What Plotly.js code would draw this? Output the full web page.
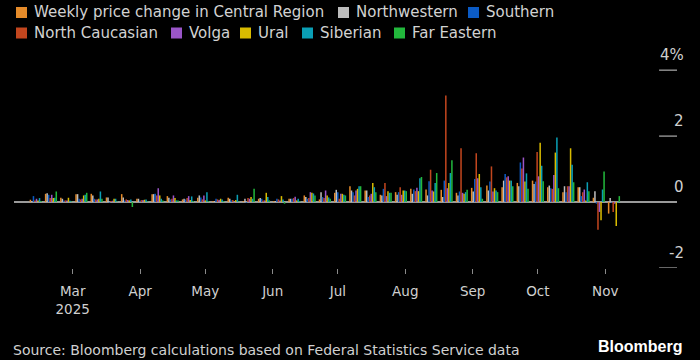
<!DOCTYPE html>
<html>
<head>
<meta charset="utf-8">
<script src="https://cdn.plot.ly/plotly-3.0.1.min.js"></script>
<style>
  html, body { margin: 0; padding: 0; background: #000; }
  #chart { width: 700px; height: 360px; }
</style>
</head>
<body>
<div id="chart"></div>
<script>
// Weekly dates (Rosstat Wednesday releases)
const weeks = [
  '2025-02-12','2025-02-19','2025-02-26','2025-03-05','2025-03-12','2025-03-19','2025-03-26',
  '2025-04-02','2025-04-09','2025-04-16','2025-04-23','2025-04-30','2025-05-07','2025-05-14',
  '2025-05-21','2025-05-28','2025-06-04','2025-06-11','2025-06-18','2025-06-25','2025-07-02',
  '2025-07-09','2025-07-16','2025-07-23','2025-07-30','2025-08-06','2025-08-13','2025-08-20',
  '2025-08-27','2025-09-03','2025-09-10','2025-09-17','2025-09-24','2025-10-01','2025-10-08',
  '2025-10-15','2025-10-22','2025-10-29','2025-11-05'
];

const regionNames = ['Weekly price change in Central Region','Northwestern','Southern',
  'North Caucasian','Volga','Ural','Siberian','Far Eastern'];

const central = [0.07,0.25,0.13,0.24,0.25,0.14,0.24,0.10,0.24,0.18,
  0.08,0.13,0.03,0.13,0.03,0.10,0.03,0.10,0.20,0.08,
  0.28,0.48,0.35,0.22,0.30,0.40,0.38,0.37,0.28,0.43,
  0.50,0.45,0.58,0.65,0.45,0.30,0.45,0.13,-0.35];
const northwestern = [0.03,0.27,0.10,0.24,0.20,0.14,0.14,0.10,0.24,0.13,
  0.10,0.20,0.03,0.10,0.10,0.12,0.03,0.10,0.15,0.30,
  0.37,0.35,0.35,0.20,0.22,0.25,0.20,0.15,0.20,0.32,
  0.35,0.65,0.48,0.55,0.50,0.48,0.45,0.33,0.12];
const southern = [0.18,0.22,0.05,0.10,0.10,-0.02,0.05,0.05,0.25,0.08,
  0.08,0.14,0.10,0.05,-0.02,0.10,0.10,0.10,0.10,0.15,
  0.30,0.30,0.15,0.40,0.30,0.38,0.63,0.65,0.32,0.70,
  0.62,0.85,1.20,0.62,0.42,0.30,0.18,-0.05,-0.02];
const northCaucasian = [0.05,0.12,0.05,0.08,0.08,0.03,0.08,0.06,0.20,0.10,
  0.12,0.08,0.08,0.06,0.12,0.05,0.08,0.12,0.12,0.12,
  0.10,0.20,0.20,0.58,0.45,0.33,0.98,3.23,1.63,1.48,
  1.08,0.75,1.02,1.52,0.40,0.48,0.30,-0.84,-0.30];
const volga = [0.10,0.22,0.05,0.10,0.08,0.04,0.06,0.06,0.42,0.20,
  0.18,0.20,0.06,-0.02,0.10,0.05,0.05,0.16,0.30,0.35,
  0.25,0.35,0.25,0.18,0.22,0.43,0.35,0.42,0.28,0.72,
  0.32,0.78,1.35,0.78,0.82,0.48,0.38,-0.30,-0.05];
const ural = [0.05,0.12,0.13,0.20,0.10,0.10,0.05,0.07,0.20,0.12,
  0.06,0.05,0.10,0.06,0.15,0.28,0.18,0.05,0.28,0.20,
  0.25,0.40,0.58,0.33,0.35,0.33,0.32,0.58,0.25,0.85,
  0.42,0.65,0.62,1.80,1.50,1.63,0.05,-0.55,-0.73];
const siberian = [0.12,0.13,0.04,0.22,0.32,0.10,0.08,0.08,0.10,0.05,
  0.17,0.30,0.08,0.22,0.10,0.15,0.08,0.10,0.26,0.14,
  0.22,0.48,0.45,0.28,0.35,0.72,0.58,0.88,0.30,0.45,
  0.35,0.65,0.87,1.10,1.96,1.13,0.60,0.38,-0.02];
const farEastern = [0.03,0.32,0.02,0.28,0.10,0.02,-0.15,0.02,0.05,0.05,
  0.03,0.03,0.03,0.02,0.40,0.05,-0.05,0.03,0.20,0.10,
  0.20,0.48,0.30,0.28,0.33,0.76,0.88,1.27,0.37,0.10,
  0.30,0.48,0.40,0.63,0.42,0.60,0.33,0.93,0.18];

const xTickVals = ['2025-03-01','2025-04-01','2025-05-01','2025-06-01','2025-07-01',
  '2025-08-01','2025-09-01','2025-10-01','2025-11-01'];
const xTickText = ['Mar<br>2025','Apr','May','Jun','Jul','Aug','Sep','Oct','Nov'];
const yTickVals = [-2, 0, 2, 4];
const yTickText = ['-2', '0', '2', '4%'];

const seriesValues = [central, northwestern, southern, northCaucasian, volga, ural, siberian, farEastern];
const colors = ['#e58b2a','#bdbdbd','#0b5bc5','#c2461e','#9a55c8','#d9bb00','#0a9fb5','#22b83c'];

const FONT = '"DejaVu Sans", sans-serif';

// ---- layout geometry (px) ----
const W = 700, H = 360;
const M = { l: 14, r: 23, t: 52, b: 92 };
const plotW = W - M.l - M.r, plotH = H - M.t - M.b;
const pxToPaperX = px => (px - M.l) / plotW;
const pxToPaperY = py => (H - M.b - py) / plotH;

// legend key placement (px): square left edge and row
const keyLeft = [16, 338, 468, 16, 171, 240, 302, 394];
const keyRow = [0, 0, 0, 1, 1, 1, 1, 1];
const rowCenter = [12.5, 33];
const keySize = 11, keyTextGap = 17;

const traces = seriesValues.map((vals, i) => ({
  type: 'bar',
  name: regionNames[i],
  x: weeks,
  y: vals,
  marker: { color: colors[i], line: { width: 0 } },
  hoverinfo: 'skip'
}));

// short tick marks under right-side labels
const shapes = yTickVals.filter(v => v !== 0).map(v => ({
  type: 'line', xref: 'paper', yref: 'y', x0: 0.973, x1: 1, y0: v, y1: v,
  line: { color: '#cfcfcf', width: 1 }, layer: 'above'
}));

// legend keys (colour squares)
regionNames.forEach((name, i) => {
  const cy = rowCenter[keyRow[i]];
  shapes.push({
    type: 'rect', xref: 'paper', yref: 'paper',
    x0: pxToPaperX(keyLeft[i]), x1: pxToPaperX(keyLeft[i] + keySize),
    y0: pxToPaperY(cy + keySize / 2), y1: pxToPaperY(cy - keySize / 2),
    fillcolor: colors[i], line: { width: 0 }, layer: 'above'
  });
});

// legend labels
const legendAnnotations = regionNames.map((name, i) => ({
  text: name, xref: 'paper', yref: 'paper',
  x: pxToPaperX(keyLeft[i] + keyTextGap - 1), y: pxToPaperY(rowCenter[keyRow[i]]),
  xanchor: 'left', yanchor: 'middle', showarrow: false,
  font: { family: FONT, size: 15, color: '#d2d2d2' }
}));

// right-side tick labels sitting above the tick marks
const yLabelAnnotations = yTickVals.map((v, i) => ({
  text: yTickText[i], xref: 'paper', yref: 'y', x: 1.013, y: v,
  xanchor: 'right', yanchor: 'middle', yshift: 15, showarrow: false,
  font: { family: FONT, size: 15, color: '#d0d0d0' }
}));

const layout = {
  width: W, height: H,
  paper_bgcolor: '#000', plot_bgcolor: '#000',
  margin: M,
  barmode: 'group', bargap: 0.2, bargroupgap: 0,
  font: { family: FONT, color: '#d0d0d0' },
  showlegend: false,
  xaxis: {
    type: 'date', range: ['2025-02-02', '2025-12-04'],
    tickvals: xTickVals, ticktext: xTickText,
    ticks: 'outside', ticklen: 5, tickwidth: 1, tickcolor: '#8a8a8a',
    ticklabelstandoff: 6,
    tickfont: { family: FONT, size: 13.5, color: '#d0d0d0' },
    showgrid: false, zeroline: false, showline: false, fixedrange: true
  },
  yaxis: {
    side: 'right', range: [-2, 4.55],
    tickvals: yTickVals, showticklabels: false,
    ticks: '', showgrid: false,
    zeroline: true, zerolinecolor: '#9a9a9a', zerolinewidth: 2,
    showline: false, fixedrange: true
  },
  shapes: shapes,
  annotations: legendAnnotations.concat(yLabelAnnotations, [
    { text: 'Source: Bloomberg calculations based on Federal Statistics Service data',
      xref: 'paper', yref: 'paper', x: -0.004, y: -0.38, xanchor: 'left', yanchor: 'middle',
      showarrow: false, font: { family: FONT, size: 14, color: '#d0d0d0' } },
    { text: '<b>Bloomberg</b>',
      xref: 'paper', yref: 'paper', x: 1.01, y: -0.365, xanchor: 'right', yanchor: 'middle',
      showarrow: false, font: { family: '"Liberation Sans", Arial, sans-serif', size: 16, color: '#ffffff' } }
  ])
};

Plotly.newPlot('chart', traces, layout, { displayModeBar: false, staticPlot: true });
</script>
</body>
</html>
